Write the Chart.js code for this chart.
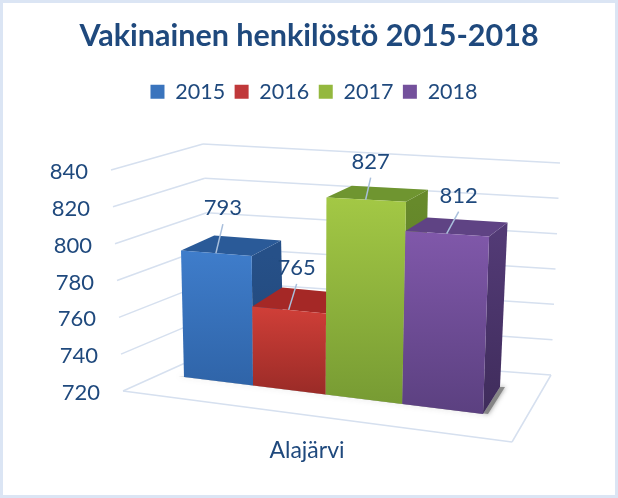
<!DOCTYPE html>
<html lang="fi">
<head>
<meta charset="utf-8">
<title>Vakinainen henkilöstö 2015-2018</title>
<script src="https://cdn.jsdelivr.net/npm/chart.js@4"></script>
<style>
  html, body { margin: 0; padding: 0; background: #fff; }
  canvas { display: block; outline: 3px solid #dbe5f4; outline-offset: -3px; }
</style>
</head>
<body>
<canvas id="chart" width="618" height="498"></canvas>
<script>
// Data
const categories = ["Alajärvi"];
const years = ["2015", "2016", "2017", "2018"];
const values2015 = [793];
const values2016 = [765];
const values2017 = [827];
const values2018 = [812];
const seriesValues = [values2015, values2016, values2017, values2018];
const tickLabels = [720, 740, 760, 780, 800, 820, 840];
const axisMin = 720;
const axisMax = 840;

// Colours: legend, front top, front bottom, top face, side top, side bottom
const legendColors = ["#3a74bd", "#c0383a", "#94b83e", "#74519c"];
const frontTop = ["#3f7dcb", "#d03f38", "#a3c845", "#8058aa"];
const frontBottom = ["#2f64a8", "#9a2b27", "#779b33", "#5b4080"];
const topFace = ["#2a5a98", "#a52826", "#6f9530", "#5f4384"];
const sideTop = ["#265088", "#8f2422", "#678a2b", "#523a75"];
const sideBottom = ["#214676", "#7c1f1d", "#587724", "#3f2c5b"];
const textColor = "#1f497d";
const gridColor = "#d6e0ef";

// Leader line end relative to the middle of a bar's front top edge
const leaderDx = [7, 8, 5, 12];
const leaderDy = [-29, -26, -22, -22];

// Maps the unit square to four screen corners [u0v0, u1v0, u1v1, u0v1]
function perspective(c) {
    const sx = c[0][0] - c[1][0] + c[2][0] - c[3][0];
    const sy = c[0][1] - c[1][1] + c[2][1] - c[3][1];
    const dx1 = c[1][0] - c[2][0], dx2 = c[3][0] - c[2][0];
    const dy1 = c[1][1] - c[2][1], dy2 = c[3][1] - c[2][1];
    const den = dx1 * dy2 - dx2 * dy1;
    const g = (sx * dy2 - dx2 * sy) / den;
    const h = (dx1 * sy - sx * dy1) / den;
    const a = c[1][0] - c[0][0] + g * c[1][0];
    const b = c[3][0] - c[0][0] + h * c[3][0];
    const d = c[1][1] - c[0][1] + g * c[1][1];
    const e = c[3][1] - c[0][1] + h * c[3][1];
    return (u, v) => {
        const w = g * u + h * v + 1;
        return [(a * u + b * v + c[0][0]) / w, (d * u + e * v + c[0][1]) / w];
    };
}

// Straight vertical edge of the walls, v = 0 at the floor
function edge(bottom, top) {
    return v => [bottom[0] + (top[0] - bottom[0]) * v, bottom[1] + (top[1] - bottom[1]) * v];
}

const frontPlane = perspective([[184, 377], [483, 414], [491, 180], [179, 165.6]]);
const backPlane = perspective([[219, 352], [500, 387], [510, 169], [211, 156]]);
const wallFront = edge([123, 391], [111, 170]);
const wallBack = edge([214, 350], [203, 144]);
const wallRight = edge([551, 375], [560, 163]);
const floorFront = [[123, 391], [512, 442], [551, 375]];

function poly(ctx, points, fill) {
    ctx.beginPath();
    points.forEach((p, i) => i ? ctx.lineTo(p[0], p[1]) : ctx.moveTo(p[0], p[1]));
    ctx.closePath();
    ctx.fillStyle = fill;
    ctx.fill();
}

function line(ctx, a, b) {
    ctx.beginPath();
    ctx.moveTo(a[0], a[1]);
    ctx.lineTo(b[0], b[1]);
    ctx.stroke();
}

function vGradient(ctx, y0, y1, c0, c1) {
    const g = ctx.createLinearGradient(0, y0, 0, y1);
    g.addColorStop(0, c0);
    g.addColorStop(1, c1);
    return g;
}

// Draws the 3D view from the library's bar elements and y scale
const view3d = {
    id: "view3d",
    afterLayout(chart) {
        // the legend row sits a little right of the title
        chart.legend.left += 5;
        chart.legend.right += 5;
    },
    beforeDatasetsDraw(chart) {
        const ctx = chart.ctx;
        const area = chart.chartArea;
        const yScale = chart.scales.y;
        const toU = x => (x - area.left) / area.width;
        const toV = y => (area.bottom - y) / area.height;

        ctx.save();
        // Walls and floor
        ctx.strokeStyle = gridColor;
        ctx.lineWidth = 1.5;
        yScale.ticks.forEach(t => {
            const v = toV(yScale.getPixelForValue(t.value));
            const a = wallFront(v), b = wallBack(v), c = wallRight(v);
            line(ctx, a, b);
            line(ctx, b, c);
        });
        line(ctx, floorFront[0], floorFront[1]);
        line(ctx, floorFront[1], floorFront[2]);

        // Tick labels follow the slanted left edge
        ctx.fillStyle = textColor;
        ctx.font = "22px Lato";
        ctx.textAlign = "right";
        ctx.textBaseline = "middle";
        tickLabels.forEach(t => {
            const p = wallFront(toV(yScale.getPixelForValue(t)));
            ctx.fillText(String(t), p[0] - 23, p[1] + 2);
        });

        // Shadow under the bars
        ctx.save();
        ctx.shadowColor = "rgba(60,60,60,0.75)";
        ctx.shadowBlur = 5;
        const fl0 = frontPlane(0, 0), fr0 = frontPlane(1, 0), br0 = backPlane(1, 0);
        poly(ctx, [fl0, fr0, br0, [br0[0] + 5, br0[1]], [fr0[0] + 5, fr0[1]], [fl0[0] - 6, fl0[1] - 1]], "rgba(120,120,120,0.8)");
        ctx.restore();

        // Bars, left to right so nearer faces cover earlier ones
        const labels = [];
        seriesValues.forEach((vals, i) => {
            chart.getDatasetMeta(i).data.forEach((bar, j) => {
                const props = bar.getProps(["x", "y", "base", "width"], true);
                const u0 = toU(props.x - props.width / 2);
                const u1 = toU(props.x + props.width / 2);
                const v = toV(props.y);
                const v0 = toV(props.base);
                const fl = frontPlane(u0, v), fr = frontPlane(u1, v);
                const flb = frontPlane(u0, v0), frb = frontPlane(u1, v0);
                const bl = backPlane(u0, v), br = backPlane(u1, v);
                const brb = backPlane(u1, v0);

                poly(ctx, [fr, br, brb, frb], vGradient(ctx, fr[1], frb[1], sideTop[i], sideBottom[i]));
                poly(ctx, [fl, fr, br, bl], topFace[i]);
                poly(ctx, [fl, fr, frb, flb], vGradient(ctx, fl[1], frb[1], frontTop[i], frontBottom[i]));

                labels.push({ text: String(vals[j]), at: frontPlane((u0 + u1) / 2, v), i: i });
            });
        });

        // Data labels with leader lines
        ctx.strokeStyle = "#a9bfdc";
        ctx.lineWidth = 1.5;
        ctx.textAlign = "center";
        ctx.fillStyle = textColor;
        labels.forEach(l => {
            const end = [l.at[0] + leaderDx[l.i], l.at[1] + leaderDy[l.i]];
            line(ctx, l.at, end);
            ctx.fillText(l.text, end[0], end[1] - 16);
        });

        // Category label under the floor
        ctx.font = "23px Lato";
        ctx.fillText(categories[0], 307, 451);
        ctx.restore();
        return false; // the plain bars are not drawn
    }
};

new Chart(document.getElementById("chart"), {
    type: "bar",
    data: {
        labels: categories,
        datasets: years.map((year, i) => ({
            label: year,
            data: seriesValues[i],
            base: axisMin,
            backgroundColor: legendColors[i],
            borderWidth: 0
        }))
    },
    options: {
        responsive: false,
        animation: false,
        barPercentage: 1,
        categoryPercentage: 1,
        layout: { padding: { top: 14, left: 0, right: 0, bottom: 40 } },
        plugins: {
            title: {
                display: true,
                text: "Vakinainen henkilöstö 2015-2018",
                color: textColor,
                font: { family: "Lato", size: 30.5, weight: "bold" },
                padding: { top: 4, bottom: 17 }
            },
            legend: {
                position: "top",
                labels: {
                    color: textColor,
                    font: { family: "Lato", size: 21.5 },
                    boxWidth: 14,
                    boxHeight: 14,
                    padding: 9.5
                }
            },
            tooltip: { enabled: false }
        },
        scales: {
            x: { display: false },
            y: { display: false, min: axisMin, max: axisMax, ticks: { stepSize: 20 } }
        }
    },
    plugins: [view3d]
});
</script>
</body>
</html>
